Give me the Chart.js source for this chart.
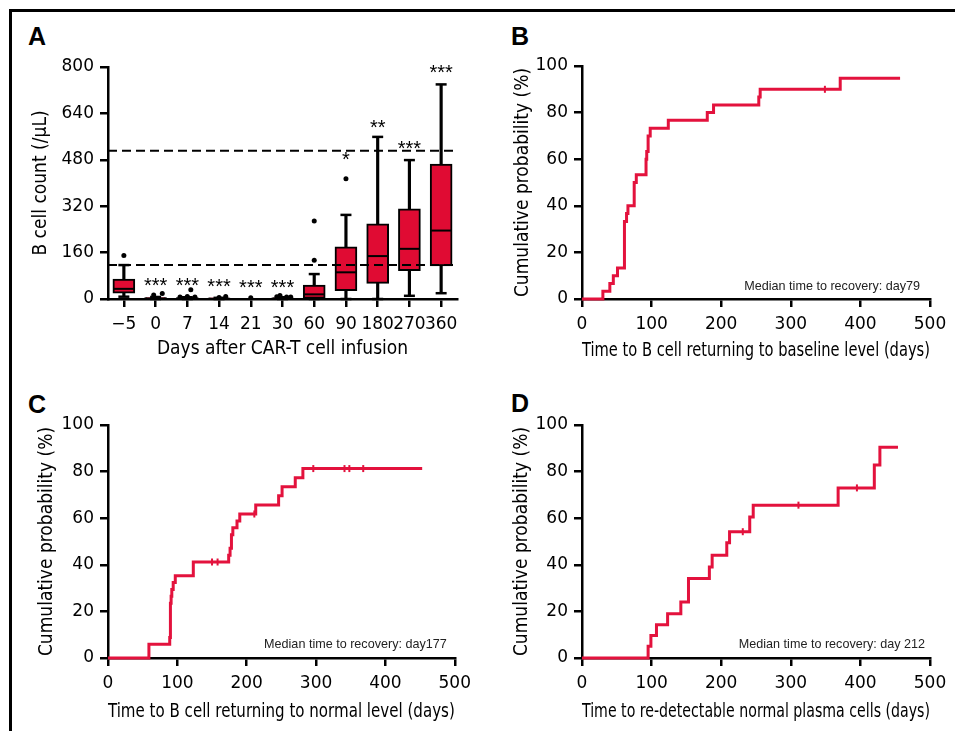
<!DOCTYPE html>
<html>
<head>
<meta charset="utf-8">
<script src="https://cdn.jsdelivr.net/npm/chart.js@4.4.1/dist/chart.umd.min.js"></script>
<style>
  html, body { margin: 0; padding: 0; background: #fff; }
  body { width: 955px; height: 731px; position: relative; overflow: hidden; }
  .frame { position: absolute; left: 9px; top: 9px; width: 946px; height: 722px;
           border-top: 3px solid #000; border-left: 3px solid #000; box-sizing: border-box; }
  canvas { position: absolute; }
  .letter { position: absolute; font: bold 25px "Liberation Sans", Arial, sans-serif; line-height: 25px; color: #000; }
</style>
</head>
<body>
<div class="frame"></div>
<div class="letter" style="left:28px;top:24px">A</div>
<div class="letter" style="left:511px;top:24px">B</div>
<div class="letter" style="left:28px;top:392px">C</div>
<div class="letter" style="left:511px;top:391px">D</div>
<canvas id="boxA" width="478" height="365" style="left:0;top:0"></canvas>
<canvas id="kmB" width="477" height="365" style="left:478px;top:0"></canvas>
<canvas id="kmC" width="478" height="366" style="left:0;top:365px"></canvas>
<canvas id="kmD" width="477" height="366" style="left:478px;top:365px"></canvas>
<script>
// panel A - B cell counts per time point
const dayLabels = ['\u22125', '0', '7', '14', '21', '30', '60', '90', '180', '270', '360'];
const whiskerLow  = [8, 0, 0, 0, null, 0, 0, 0, 0, 11, 20];
const boxLow      = [20, 0, 0, 0, null, 0, 2, 29, 54, 98, 114];
const boxMedian   = [35, 2, 2, 1, null, 2, 16, 92, 148, 173, 236];
const boxHigh     = [69, 5, 5, 3, null, 4, 48, 180, 259, 311, 465];
const whiskerHigh = [117, 7, 6, 4, null, 6, 86, 290, 559, 479, 740];
const outlierGroup = [0, 1, 1, 2, 2, 2, 2, 3, 3, 4, 5, 5, 5, 5, 6, 6, 7];
const outlierShift = [0, -0.06, 0.21, -0.23, 0, 0.11, 0.24, 0, 0.21, 0, -0.18, -0.08, 0.13, 0.26, 0, 0, 0];
const outlierValue = [150, 14, 19, 7, 9, 32, 7, 5, 9, 4, 8, 12, 7, 7, 134, 269, 415];
const starMarks = ['', '***', '***', '***', '***', '***', '', '*', '**', '***', '***'];
const starLevel = [null, 65, 65, 62, 60, 60, null, 500, 611, 537, 801];
const normalRange = [117, 511];

// panel B - return to baseline level
const baselineDays = [0, 30, 40, 45, 51, 61, 64, 66, 75, 78, 92, 92, 93, 95, 98, 124, 180, 189, 254, 256, 371, 457];
const baselinePct  = [0, 3.3, 6.7, 10, 13.3, 33.3, 36.7, 40, 50, 53.3, 56.7, 60, 63.3, 70, 73.3, 76.7, 80, 83.3, 86.7, 90, 94.7, 94.7];
const baselineCensorDays = [349];
const baselineCensorPct  = [90];

// panel C - return to normal level
const normalDays = [0, 59, 89, 90, 91, 92, 94, 97, 123, 174, 176, 178, 180, 186, 190, 213, 246, 251, 270, 281, 453];
const normalPct  = [0, 5.9, 8.8, 23.5, 26.5, 29.4, 32.4, 35.3, 41.2, 44.1, 47.1, 52.9, 55.9, 58.8, 61.8, 65.7, 69.6, 73.5, 77.4, 81.3, 81.3];
const normalCensorDays = [150, 158, 211, 296, 341, 348, 368];
const normalCensorPct  = [41.2, 41.2, 61.8, 81.3, 81.3, 81.3, 81.3];

// panel D - re-detectable plasma cells
const plasmaDays = [0, 95, 99, 107, 123, 142, 153, 183, 187, 208, 212, 241, 246, 368, 420, 428, 454];
const plasmaPct  = [0, 5, 9.7, 14.3, 19, 24, 34.1, 39.1, 44.1, 49.5, 54.2, 60.5, 65.6, 73, 82.8, 90.4, 90.4];
const plasmaCensorDays = [231, 311, 395];
const plasmaCensorPct  = [54.2, 65.6, 73];

const red = '#e3123d';
const boxRed = '#e00b33';
const tickFont = { family: '"DejaVu Sans", sans-serif', size: 17 };
const titleFont = { family: '"Liberation Sans Narrow", "DejaVu Sans Condensed", sans-serif', size: 19 };

const axisGrid = { drawOnChartArea: false, tickLength: 8, color: '#000', lineWidth: 2.5, offset: false };
const axisBorder = { color: '#000', width: 2.5 };

const notePlugin = {
  id: 'note',
  afterDraw(chart, args, opts) {
    if (!opts.text) return;
    const { ctx, chartArea } = chart;
    ctx.save();
    ctx.font = '12.6px "Liberation Sans", Arial, sans-serif';
    ctx.fillStyle = '#222';
    ctx.textAlign = 'right';
    ctx.textBaseline = 'alphabetic';
    ctx.fillText(opts.text, chartArea.right - opts.right, chartArea.bottom - opts.lift);
    ctx.restore();
  }
};

const starPlugin = {
  id: 'stars',
  afterDatasetsDraw(chart) {
    const { ctx, scales: { x, y } } = chart;
    ctx.save();
    ctx.font = '20px "Liberation Sans", Arial, sans-serif';
    ctx.fillStyle = '#000';
    ctx.textAlign = 'center';
    ctx.textBaseline = 'alphabetic';
    starMarks.forEach((s, i) => {
      if (!s) return;
      ctx.fillText(s, x.getPixelForValue(i), y.getPixelForValue(starLevel[i]) + 12);
    });
    ctx.restore();
  }
};

// Box plot (panel A)
const groups = dayLabels.map((_, i) => i).filter(i => boxLow[i] != null);
const pointSet = (data, extra) => Object.assign({
  type: 'line', data: data, showLine: false, borderWidth: 0,
  pointBorderColor: '#000', pointBackgroundColor: '#000', clip: false, order: 1
}, extra);

new Chart(document.getElementById('boxA'), {
  type: 'bar',
  data: {
    datasets: [
      {
        data: groups.map(i => ({ x: i, y: [whiskerLow[i], boxLow[i]] }))
          .concat(groups.map(i => ({ x: i, y: [boxHigh[i], whiskerHigh[i]] }))),
        backgroundColor: '#000', borderWidth: 0, barThickness: 2.5, grouped: false, order: 3
      },
      {
        data: groups.map(i => ({ x: i, y: [boxLow[i], boxHigh[i]] })),
        backgroundColor: boxRed, borderColor: '#000', borderWidth: 2, borderSkipped: false,
        barThickness: 22, grouped: false, order: 2
      },
      pointSet(groups.map(i => ({ x: i, y: boxMedian[i] })), { pointStyle: 'line', pointRadius: 10, pointBorderWidth: 2 }),
      pointSet(groups.map(i => ({ x: i, y: whiskerHigh[i] }))
        .concat(groups.map(i => ({ x: i, y: whiskerLow[i] }))), { pointStyle: 'line', pointRadius: 5.5, pointBorderWidth: 2.5 }),
      pointSet(outlierValue.map((v, k) => ({ x: outlierGroup[k] + outlierShift[k], y: v })), { pointStyle: 'circle', pointRadius: 2.5 }),
      ...normalRange.map(level => ({
        type: 'line', data: [{ x: -0.5, y: level }, { x: 10.5, y: level }],
        borderColor: '#000', borderWidth: 2, borderDash: [9, 5], pointRadius: 0, order: 0
      }))
    ]
  },
  options: {
    responsive: false,
    animation: false,
    layout: { padding: { top: 67, right: 21, left: 0, bottom: 0 } },
    plugins: { legend: { display: false }, tooltip: { enabled: false } },
    scales: {
      x: {
        type: 'linear', min: -0.5, max: 10.5, offset: false,
        afterBuildTicks: s => { s.ticks = dayLabels.map((_, i) => ({ value: i })); },
        afterFit: s => { s.height = 66; },
        ticks: { callback: v => dayLabels[v], font: tickFont, color: '#000', padding: 7, autoSkip: false, maxRotation: 0 },
        grid: axisGrid, border: axisBorder,
        title: { display: true, text: 'Days after CAR-T cell infusion', font: titleFont, color: '#000', padding: { bottom: 5 } }
      },
      y: {
        min: 0, max: 800,
        afterFit: s => { s.width = 108; },
        ticks: { stepSize: 160, font: tickFont, color: '#000', padding: 6 },
        grid: axisGrid, border: axisBorder,
        title: { display: true, text: 'B cell count (/\u03bcL)', font: titleFont, color: '#000', padding: { top: 30 } }
      }
    }
  },
  plugins: [starPlugin]
});

// Kaplan-Meier style cumulative curves
function kmChart(id, days, pct, censorDays, censorPct, xTitle, note, size) {
  new Chart(document.getElementById(id), {
    type: 'line',
    data: {
      datasets: [
        {
          data: days.map((d, i) => ({ x: d, y: pct[i] })),
          stepped: true, borderColor: red, borderWidth: 3, pointRadius: 0,
          borderCapStyle: 'butt', borderJoinStyle: 'miter', clip: false
        },
        {
          data: censorDays.map((d, i) => ({ x: d, y: censorPct[i] })),
          showLine: false, pointStyle: 'line', pointRotation: 90, pointRadius: 3.5,
          pointBorderWidth: 2, pointBorderColor: red, clip: false
        }
      ]
    },
    options: {
      responsive: false,
      animation: false,
      layout: { padding: { top: size.top, right: size.right, left: 0, bottom: 0 } },
      plugins: {
        legend: { display: false }, tooltip: { enabled: false },
        note: { text: note.text, right: note.right, lift: note.lift }
      },
      scales: {
        x: {
          type: 'linear', min: 0, max: 500,
          afterFit: s => { s.height = size.xh; },
          ticks: { stepSize: 100, font: tickFont, color: '#000', padding: 7, maxRotation: 0 },
          grid: axisGrid, border: axisBorder,
          title: { display: true, text: xTitle, font: titleFont, color: '#000', padding: { bottom: size.xtPad } }
        },
        y: {
          min: 0, max: 100,
          afterFit: s => { s.width = size.yw; },
          ticks: { stepSize: 20, font: tickFont, color: '#000', padding: 6 },
          grid: axisGrid, border: axisBorder,
          title: { display: true, text: 'Cumulative probability (%)', font: titleFont, color: '#000', padding: { top: size.ytPad } }
        }
      }
    },
    plugins: [notePlugin]
  });
}

kmChart('kmB', baselineDays, baselinePct, baselineCensorDays, baselineCensorPct,
  'Time to B cell returning to baseline level (days)',
  { text: 'Median time to recovery: day79', right: 10, lift: 9 },
  { top: 66, right: 25, xh: 66, yw: 104, xtPad: 3, ytPad: 34 });

kmChart('kmC', normalDays, normalPct, normalCensorDays, normalCensorPct,
  'Time to B cell returning to normal level (days)',
  { text: 'Median time to recovery: day177', right: 8, lift: 10 },
  { top: 60, right: 22, xh: 73, yw: 108, xtPad: 8, ytPad: 36 });

kmChart('kmD', plasmaDays, plasmaPct, plasmaCensorDays, plasmaCensorPct,
  'Time to re-detectable normal plasma cells (days)',
  { text: 'Median time to recovery: day 212', right: 5, lift: 10 },
  { top: 60, right: 25, xh: 73, yw: 104, xtPad: 8, ytPad: 33 });
</script>
</body>
</html>
